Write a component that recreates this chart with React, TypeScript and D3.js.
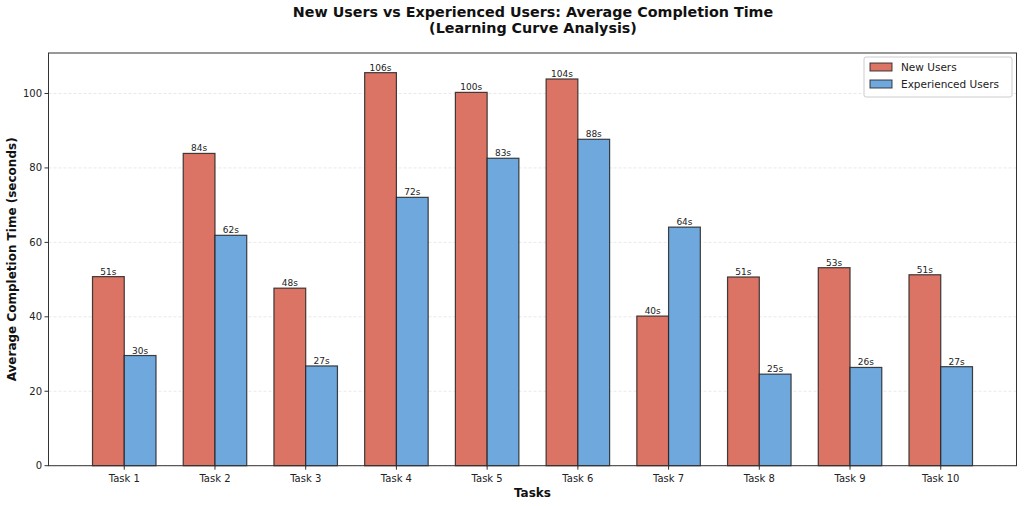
import React from "react";
import * as d3 from "d3";

const tasks = ["Task 1", "Task 2", "Task 3", "Task 4", "Task 5", "Task 6", "Task 7", "Task 8", "Task 9", "Task 10"];
const newUsers = [50.8, 83.9, 47.7, 105.6, 100.3, 103.9, 40.2, 50.7, 53.2, 51.3];
const experiencedUsers = [29.6, 61.9, 26.8, 72.1, 82.6, 87.7, 64.1, 24.6, 26.4, 26.6];
const yTicks = [0, 20, 40, 60, 80, 100];
const seriesNames = ["New Users", "Experienced Users"];
const seriesColors = ["#DB7464", "#6FA8DC"];

const W = 1024;
const H = 506;
const M = { left: 48.5, right: 1016.5, top: 53, bottom: 465.7 };
const FONT = "DejaVu Sans, sans-serif";

export default function App() {
  const barW = 0.35;
  const x = d3.scaleLinear().domain([-0.835, 9.835]).range([M.left, M.right]);
  const yMax = d3.max(newUsers.concat(experiencedUsers))! * 1.05;
  const y = d3.scaleLinear().domain([0, yMax]).range([M.bottom, M.top]);
  const series = [newUsers, experiencedUsers];
  const unit = x(1) - x(0);

  return (
    <svg width={W} height={H} style={{ position: "absolute", left: 0, top: 0, background: "#fff" }} fontFamily={FONT}>
      <rect x={0} y={0} width={W} height={H} fill="#fff" />
      {yTicks.map((t) => (
        <line key={"g" + t} x1={M.left} x2={M.right} y1={y(t)} y2={y(t)} stroke="#b0b0b0" strokeOpacity={0.35} strokeDasharray="3,2" strokeWidth={0.8} />
      ))}
      {series.map((vals, si) =>
        vals.map((v, i) => {
          const cx = si === 0 ? i - barW / 2 : i + barW / 2;
          const x0 = x(cx - barW / 2);
          return (
            <g key={`b${si}-${i}`}>
              <rect x={x0} y={y(v)} width={barW * unit} height={y(0) - y(v)} fill={seriesColors[si]} stroke="#222" strokeOpacity={0.85} strokeWidth={1.2} />
              <text x={x(cx)} y={y(v) - 2} textAnchor="middle" fontSize={9} fill="#222">{`${Math.round(v)}s`}</text>
            </g>
          );
        })
      )}
      <rect x={M.left} y={M.top} width={M.right - M.left} height={M.bottom - M.top} fill="none" stroke="#333" strokeWidth={1} />
      {yTicks.map((t) => (
        <g key={"yt" + t}>
          <line x1={M.left - 4} x2={M.left} y1={y(t)} y2={y(t)} stroke="#333" />
          <text x={M.left - 6.5} y={y(t)} dy="0.35em" textAnchor="end" fontSize={10} fill="#222">{t}</text>
        </g>
      ))}
      {tasks.map((t, i) => (
        <g key={"xt" + i}>
          <line x1={x(i)} x2={x(i)} y1={M.bottom} y2={M.bottom + 4} stroke="#333" />
          <text x={x(i)} y={M.bottom + 16} textAnchor="middle" fontSize={10} fill="#222">{t}</text>
        </g>
      ))}
      <text x={(M.left + M.right) / 2} y={497} textAnchor="middle" fontSize={12} fontWeight="bold" fill="#111">Tasks</text>
      <text transform={`translate(16,${(M.top + M.bottom) / 2}) rotate(-90)`} textAnchor="middle" fontSize={12} fontWeight="bold" fill="#111">Average Completion Time (seconds)</text>
      <text x={533} y={17} textAnchor="middle" fontSize={14.3} fontWeight="bold" fill="#111">New Users vs Experienced Users: Average Completion Time</text>
      <text x={533} y={33} textAnchor="middle" fontSize={14.3} fontWeight="bold" fill="#111">(Learning Curve Analysis)</text>
      <g>
        <rect x={864} y={57} width={148} height={40} rx={2} fill="#fff" fillOpacity={0.8} stroke="#ccc" />
        {seriesNames.map((n, i) => (
          <g key={"l" + i}>
            <rect x={870} y={63 + i * 17} width={22} height={8} fill={seriesColors[i]} stroke="#222" strokeOpacity={0.85} strokeWidth={1} />
            <text x={901} y={67 + i * 17} dy="0.35em" fontSize={10.5} fill="#222">{n}</text>
          </g>
        ))}
      </g>
    </svg>
  );
}
